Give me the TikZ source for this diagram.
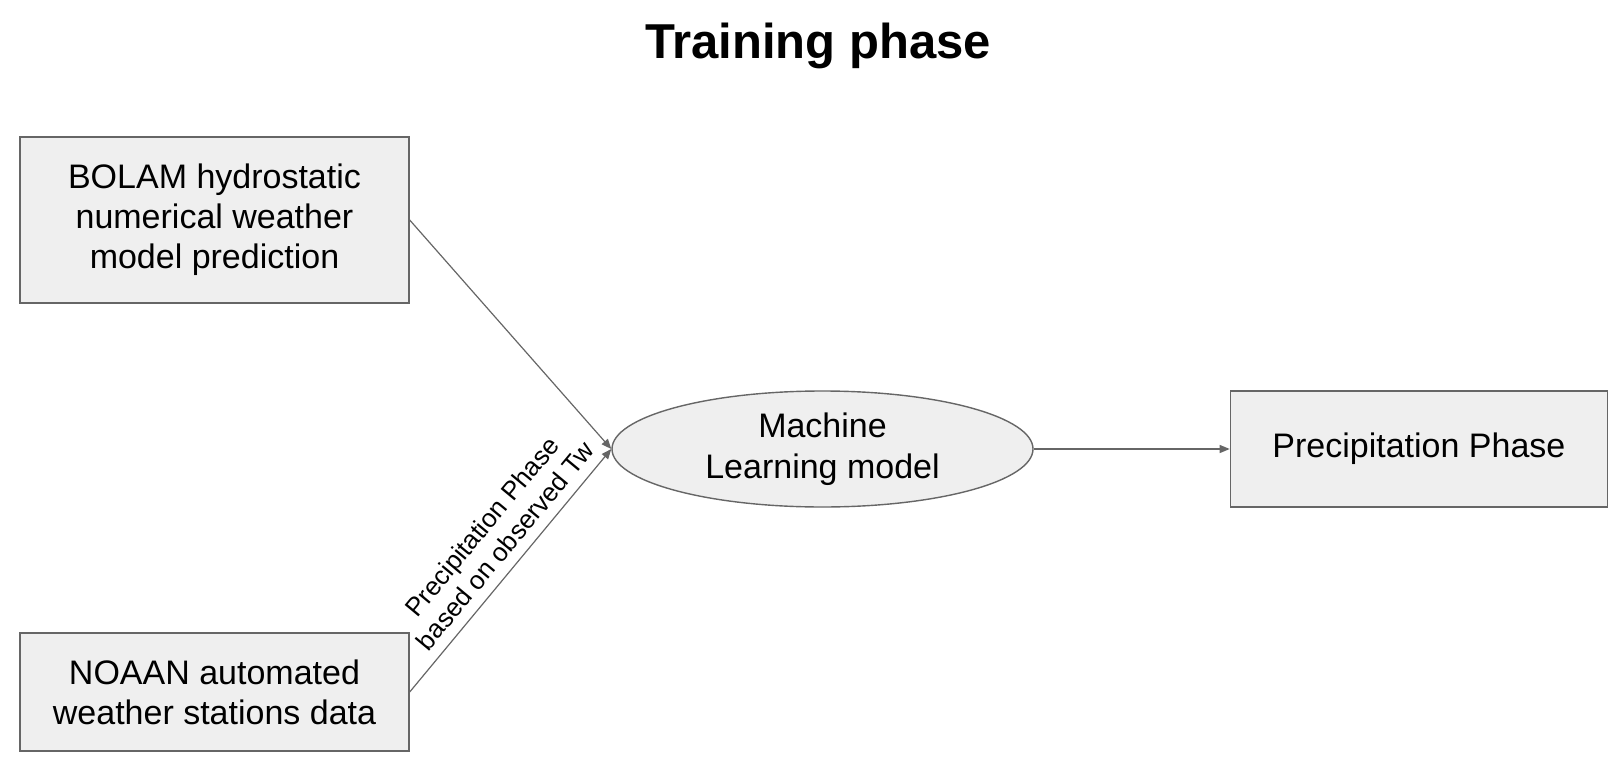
\documentclass[tikz,border=0pt]{standalone}
\usepackage{fontspec}
\setmainfont{Liberation Sans}
\usepackage{xcolor}
\usepackage{tikz}
\usetikzlibrary{positioning, arrows.meta, shapes.geometric}
\definecolor{boxfill}{HTML}{EFEFEF}
\definecolor{boxline}{HTML}{666666}
\tikzset{
  inbox/.style={draw=boxline, line width=0.7pt, fill=boxfill, align=center,
                minimum width=194.5pt, inner sep=0pt,
                font=\fontsize{17}{20}\selectfont},
  model/.style={ellipse, draw=boxline, line width=0.7pt, fill=boxfill, align=center,
                minimum width=210.5pt, minimum height=58pt, inner sep=0pt,
                font=\fontsize{17}{20.5}\selectfont},
  outbox/.style={draw=boxline, line width=0.7pt, fill=boxfill, align=center,
                 minimum width=188.5pt, minimum height=58pt, inner sep=0pt,
                 font=\fontsize{17}{20}\selectfont},
  ar/.style={-{Triangle[length=5pt, width=4pt]}, line width=0.6pt, boxline},
  lbl/.style={sloped, above, text=black, align=center, inner sep=5pt,
              font=\fontsize{13}{15}\selectfont},
}
\begin{document}
\begin{tikzpicture}
  \useasboundingbox (0,0) rectangle (810.5pt,-382.5pt);
  \node[anchor=base, font=\fontsize{24.5}{28}\selectfont\bfseries] (title) at (409pt,-29.5pt) {Training phase};

  \node[inbox, minimum height=83pt] (bolam) at (107.25pt,-110pt)
    {BOLAM hydrostatic\\numerical weather\\model prediction};
  \node[inbox, minimum height=59pt] (noaan) at (107.25pt,-346pt)
    {NOAAN automated\\weather stations data};
  \node[model] (ml) at (411.25pt,-224.5pt) {Machine\\Learning model};
  \node[outbox, right=98pt of ml] (phase) {Precipitation Phase};

  % inputs -> model
  \draw[ar] (bolam.east) -- (ml.west);
  \draw[ar] (noaan.east) -- node[lbl, pos=0.55]{Precipitation Phase\\based on observed Tw} (ml.west);
  % model -> output
  \draw[ar] (ml.east) -- (phase.west);
\end{tikzpicture}
\end{document}
